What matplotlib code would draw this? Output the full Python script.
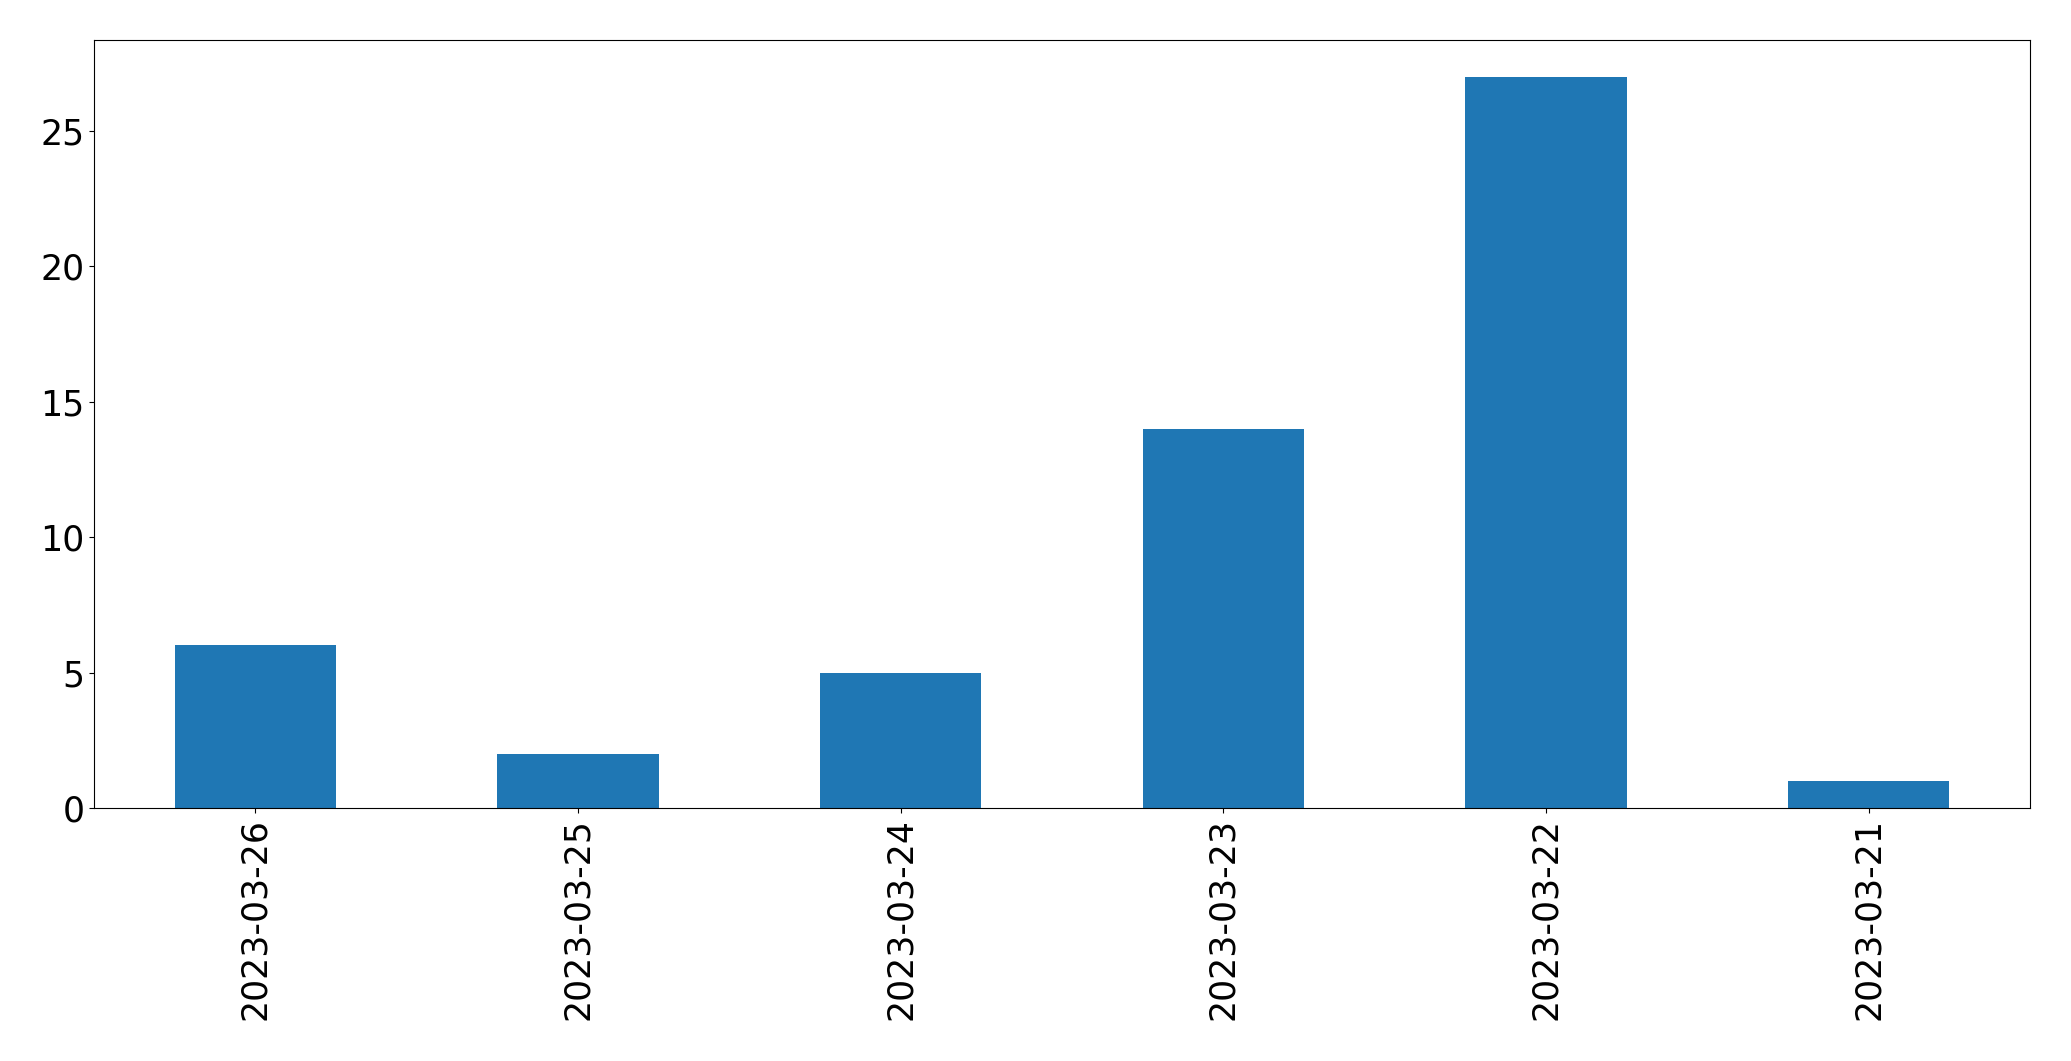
import matplotlib
matplotlib.use("Agg")
import matplotlib.pyplot as plt

# ── data ──────────────────────────────────────────────────────────────────────
dates = ["2023-03-26", "2023-03-25", "2023-03-24",
         "2023-03-23", "2023-03-22", "2023-03-21"]
counts = [6, 2, 5, 14, 27, 1]

# ── plot ──────────────────────────────────────────────────────────────────────
fig = plt.figure(figsize=(20.71, 10.61), dpi=100)
ax = fig.add_axes([94 / 2071, 1 - 808 / 1061, (2030 - 94) / 2071, (808 - 40) / 1061])

x = range(len(dates))
ax.bar(x, counts, width=0.5, color="#1f77b4")
ax.set_xlim(-0.5, len(dates) - 0.5)
ax.set_ylim(0, max(counts) * 1.05)
ax.set_xticks(list(x))
ax.set_xticklabels(dates, rotation=90)
ax.tick_params(labelsize=25)

fig.savefig("out.png", dpi=100)
